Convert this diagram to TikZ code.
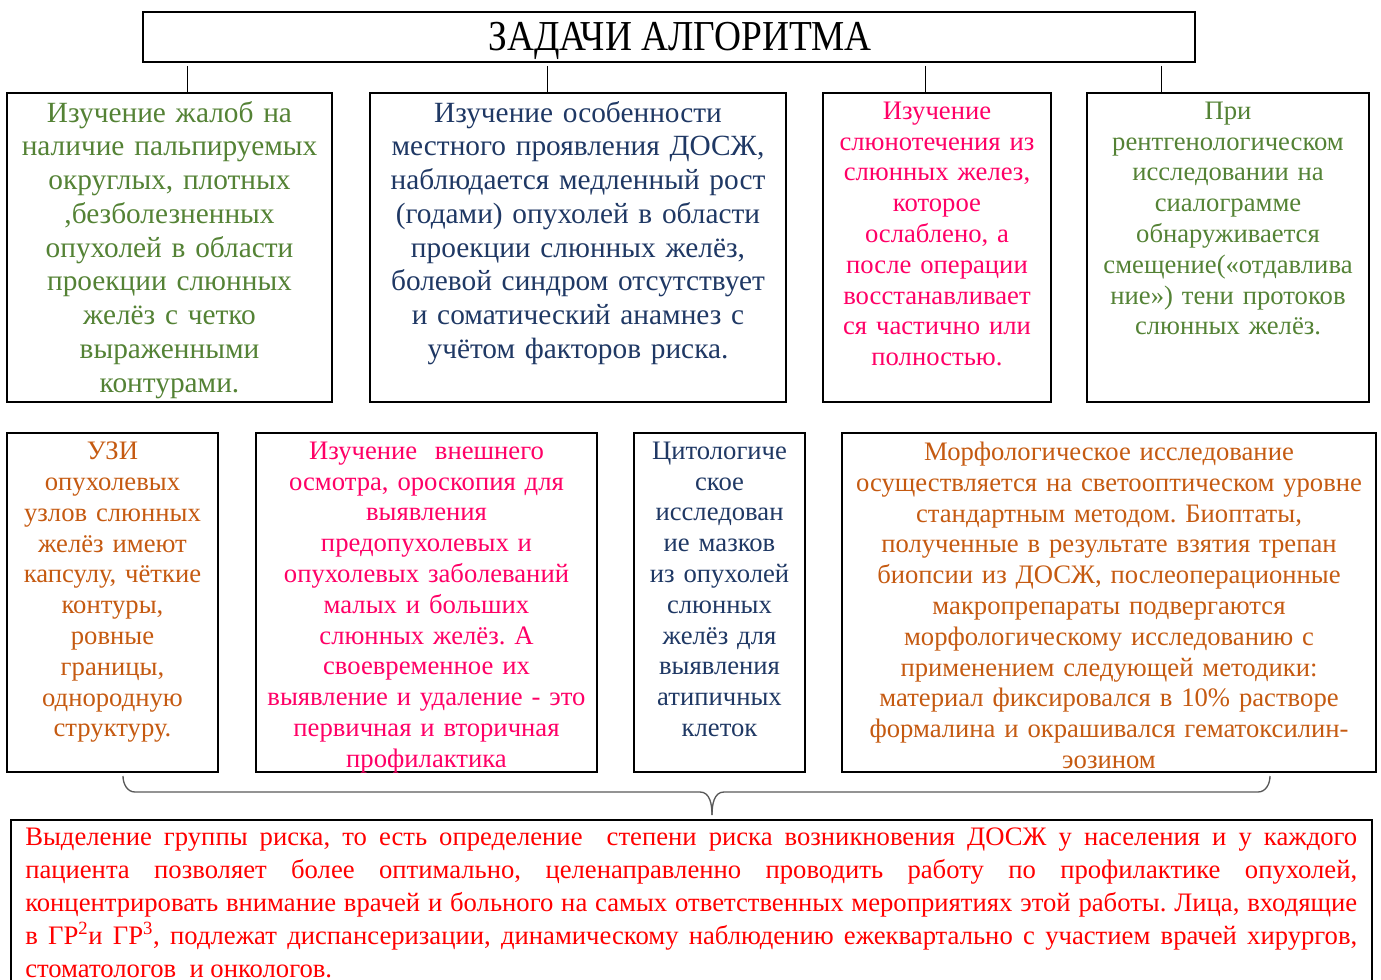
\documentclass[tikz,border=0pt]{standalone}
\usepackage{fontspec}
\setmainfont{Liberation Serif}
\usepackage{graphicx}
\frenchspacing
\definecolor{tgreen}{RGB}{84,130,53}
\definecolor{tnavy}{RGB}{31,56,100}
\definecolor{tpink}{RGB}{255,0,102}
\definecolor{torange}{RGB}{197,90,17}
\definecolor{tred}{RGB}{255,0,0}
\begin{document}
\begin{tikzpicture}[x=0.75pt,y=-0.75pt]
  \tikzstyle{frame}=[draw,line width=1.5pt,inner sep=0pt]
  \tikzstyle{big}=[anchor=north,inner sep=0pt,align=center,font=\fontsize{22}{25.3}\selectfont]
  \tikzstyle{small}=[anchor=north,inner sep=0pt,align=center,font=\fontsize{20}{23.1}\selectfont]
  \useasboundingbox (0,0) rectangle (1381,980);

  \node[frame,minimum width=789pt,minimum height=37.5pt] (title) at (669,37) {};
  \node[inner sep=0pt,font=\fontsize{32}{36}\selectfont] (ttl) at (680,41) {\scalebox{0.875}[1]{ЗАДАЧИ АЛГОРИТМА}};

  \node[frame,minimum width=243.75pt,minimum height=231.75pt] (b1) at (169.5,247.5) {};
  \node[frame,minimum width=312pt,minimum height=231.75pt] (b2) at (578,247.5) {};
  \node[frame,minimum width=171pt,minimum height=231.75pt] (b3) at (937,247.5) {};
  \node[frame,minimum width=211.5pt,minimum height=231.75pt] (b4) at (1228,247.5) {};

  \node[frame,minimum width=158.25pt,minimum height=254.25pt] (c1) at (112.5,602.5) {};
  \node[frame,minimum width=255.75pt,minimum height=254.25pt] (c2) at (426.5,602.5) {};
  \node[frame,minimum width=128.25pt,minimum height=254.25pt] (c3) at (719.5,602.5) {};
  \node[frame,minimum width=400.5pt,minimum height=254.25pt] (c4) at (1109,602.5) {};

  \node[frame,minimum width=1020.75pt,minimum height=127.5pt] (risk) at (691.5,905) {};

  \node[big,text width=240pt,text=tgreen] (t1) at ([yshift=-6.75pt]b1.north) {Изучение жалоб на\\наличие пальпируемых\\округлых, плотных\\,безболезненных\\опухолей в области\\проекции слюнных\\желёз с четко\\выраженными\\контурами.};
  \node[big,text width=305pt,text=tnavy] (t2) at ([yshift=-6.75pt]b2.north) {Изучение особенности\\местного проявления ДОСЖ,\\наблюдается медленный рост\\(годами) опухолей в области\\проекции слюнных желёз,\\болевой синдром отсутствует\\и соматический анамнез с\\учётом факторов риска.};
  \node[small,text width=165pt,text=tpink] (t3) at ([yshift=-7.25pt]b3.north) {Изучение\\слюнотечения из\\слюнных желез,\\которое\\ослаблено, а\\после операции\\восстанавливает\\ся частично или\\полностью.};
  \node[small,text width=205pt,text=tgreen] (t4) at ([yshift=-7.25pt]b4.north) {При\\рентгенологическом\\исследовании на\\сиалограмме\\обнаруживается\\смещение(«отдавлива\\ние») тени протоков\\слюнных желёз.};

  \node[small,text width=154pt,text=torange] (u1) at ([yshift=-7.25pt]c1.north) {УЗИ\\опухолевых\\узлов слюнных\\желёз имеют\\капсулу, чёткие\\контуры,\\ровные\\границы,\\однородную\\структуру.};
  \node[small,text width=250pt,text=tpink] (u2) at ([yshift=-7.25pt]c2.north) {Изучение\ \ внешнего\\осмотра, ороскопия для\\выявления\\предопухолевых и\\опухолевых заболеваний\\малых и больших\\слюнных желёз. А\\своевременное их\\выявление и удаление - это\\первичная и вторичная\\профилактика};
  \node[small,text width=124pt,text=tnavy] (u3) at ([yshift=-7.25pt]c3.north) {Цитологиче\\ское\\исследован\\ие мазков\\из опухолей\\слюнных\\желёз для\\выявления\\атипичных\\клеток};
  \node[small,text width=395pt,text=torange] (u4) at ([yshift=-7.25pt]c4.north) {Морфологическое исследование\\осуществляется на светооптическом уровне\\стандартным методом. Биоптаты,\\полученные в результате взятия трепан\\биопсии из ДОСЖ, послеоперационные\\макропрепараты подвергаются\\морфологическому исследованию с\\применением следующей методики:\\материал фиксировался в 10\% растворе\\формалина и окрашивался гематоксилин-\\эозином};

  \node[anchor=north west,inner sep=0pt,text width=999pt,align=justify,font=\fontsize{20}{24.6}\selectfont,text=tred] (r1) at (25,828) {Выделение группы риска, то есть определение\ \ степени риска возникновения ДОСЖ у населения и у каждого\linebreak пациента позволяет более оптимально, целенаправленно проводить работу по профилактике опухолей,\linebreak концентрировать внимание врачей и больного на самых ответственных мероприятиях этой работы. Лица, входящие\linebreak в ГР\textsuperscript{2}и ГР\textsuperscript{3}, подлежат диспансеризации, динамическому наблюдению ежеквартально с участием врачей хирургов,\linebreak стоматологов\ \ и онкологов.};

  \coordinate (k1) at (187,66);
  \coordinate (k2) at (547,66);
  \coordinate (k3) at (925,66);
  \coordinate (k4) at (1161,66);
  \draw[line width=0.75pt] (k1) -- (k1 |- b1.north);
  \draw[line width=0.75pt] (k2) -- (k2 |- b2.north);
  \draw[line width=0.75pt] (k3) -- (k3 |- b3.north);
  \draw[line width=0.75pt] (k4) -- (k4 |- b4.north);

  \coordinate (brl) at (123,776);
  \coordinate (brm) at (712,815);
  \coordinate (brr) at (1270,776);
  \draw[line width=1pt,black!65] (brl) to[out=-90,in=180] (135,792) -- (700,792) to[out=0,in=90] (brm);
  \draw[line width=1pt,black!65] (brm) to[out=90,in=180] (724,792) -- (1258,792) to[out=0,in=-90] (brr);
\end{tikzpicture}
\end{document}
